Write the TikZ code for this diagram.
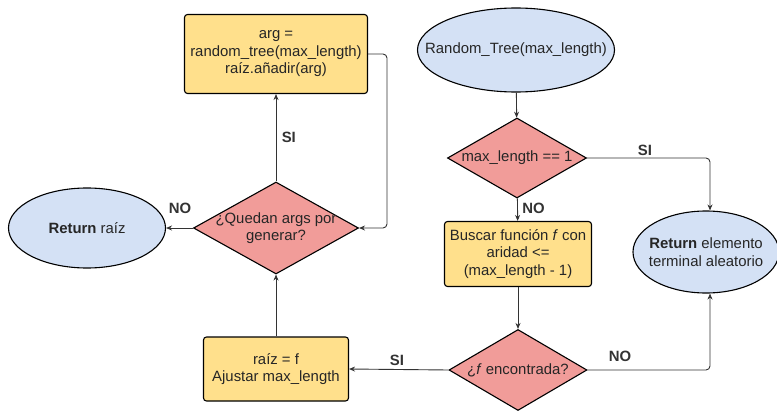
\documentclass[tikz,border=0pt]{standalone}
\usepackage{fontspec}
\setmainfont{Liberation Sans}
\usetikzlibrary{shapes.geometric,arrows.meta}
\definecolor{procfill}{HTML}{FFE08C}
\definecolor{decfill}{HTML}{F19C99}
\definecolor{termfill}{HTML}{D4E1F5}
\definecolor{linegray}{HTML}{333333}
\begin{document}
\begin{tikzpicture}[x=1pt,y=-1pt,
  every node/.style={font=\fontsize{14.9}{17.5}\selectfont, text=black!85},
  procbox/.style={draw=black, line width=1.1pt, fill=procfill, rounded corners=3pt,
    align=center, inner sep=0pt},
  decision/.style={draw=black, line width=1.1pt, fill=decfill, diamond,
    inner sep=0pt},
  terminal/.style={draw=black, line width=1.1pt, fill=termfill, ellipse,
    inner sep=0pt},
  flow/.style={draw=linegray, line width=0.9pt, rounded corners=4pt,
    -{Stealth[length=6pt,width=5pt]}},
  lbl/.style={font=\fontsize{14.9}{17}\selectfont\bfseries, text=black!80}
]
\useasboundingbox (0,0) rectangle (777,412);

% process boxes
\node[procbox, minimum width=183pt, minimum height=79pt] (arg) at (276,54)
  {arg =\\random\_tree(max\_length)\\raíz.añadir(arg)};
\node[procbox, minimum width=147pt, minimum height=65pt] (search) at (518,254)
  {Buscar función \textit{f} con\\aridad <=\\(max\_length - 1)};
\node[procbox, minimum width=145pt, minimum height=64pt] (setroot) at (276,369)
  {raíz = f\\Ajustar max\_length};

% terminals: fixed-size ellipses with their text set on top
\node[terminal, minimum width=197pt, minimum height=84pt] (start) at (516,50) {};
\node[align=center] (starttxt) at (start) {Random\_Tree(max\_length)};
\node[terminal, minimum width=146pt, minimum height=82pt] (term) at (706,252) {};
\node[align=center] (termtxt) at (term) {\textbf{Return} elemento\\terminal aleatorio};
\node[terminal, minimum width=157pt, minimum height=80pt] (root) at (87,228) {};
\node[align=center] (roottxt) at (root) {\textbf{Return} raíz};

% decisions: fixed-size diamonds with their text set on top
\node[decision, minimum width=139pt, minimum height=80pt] (one) at (517,158) {};
\node[align=center] (onetxt) at (one) {max\_length == 1};
\node[decision, minimum width=138pt, minimum height=81pt] (found) at (518,370) {};
\node[align=center] (foundtxt) at (found) {¿\textit{f} encontrada?};
\node[decision, minimum width=165pt, minimum height=92pt] (left) at (276,228) {};
\node[align=center] (lefttxt) at (left) {¿Quedan args por\\generar?};

\coordinate (c1) at (710,158);
\coordinate (c2) at (710,370);
\coordinate (c3) at (387,54);
\coordinate (c4) at (387,228);

% connectors
\draw[flow] (start) -- (one);
\draw[flow] (one) -- node[lbl, pos=0.45, right=1pt] {NO} (search);
\draw[flow] (one.east) -- (c1) -- (c1 |- term.north);
\node[lbl] (si1) at (645,150) {SI};
\draw[flow] (search) -- (found);
\draw[flow] (found.east) -- (c2) -- (c2 |- term.south);
\node[lbl] (no2) at (620,356) {NO};
\draw[flow] (found.west) -- (setroot.east);
\node[lbl] (si2) at (397,360) {SI};
\draw[flow] (setroot.north) -- (left.south);
\draw[flow] (left.north) -- node[lbl, right=2pt] {SI} (arg.south);
\draw[flow] (arg.east) -- (c3) -- (c4) -- (left.east);
\draw[flow] (left.west) -- (root.east);
\node[lbl] (no1) at (180,208) {NO};
\end{tikzpicture}
\end{document}
